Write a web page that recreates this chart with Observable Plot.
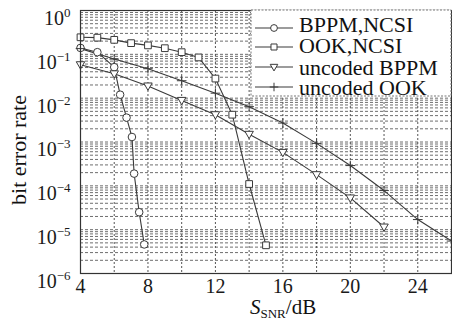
<!DOCTYPE html>
<html><head><meta charset="utf-8">
<script src="https://cdn.jsdelivr.net/npm/d3@7"></script>
<script src="https://cdn.jsdelivr.net/npm/@observablehq/plot@0.6"></script>
<style>body{margin:0;background:#fff} svg{display:block}</style>
</head><body><div id="chart"></div>
<script>
// ---- data ----
const snrBppmNcsi = [4, 5, 6, 6.35, 6.73, 7.05, 7.18, 7.48, 7.78];
const berBppmNcsi = [0.14, 0.112, 0.051, 0.012, 0.0036, 0.0013, 1.9e-4, 2.5e-5, 4.6e-6];

const snrOokNcsi = [4, 5, 6, 7, 8, 9, 10, 11, 12, 13, 14, 15];
const berOokNcsi = [0.245, 0.24, 0.214, 0.18, 0.16, 0.138, 0.112, 0.085, 0.028, 4.2e-3, 1.1e-4, 4.4e-6];

const snrUncodedBppm = [4, 6, 8, 10, 12, 14, 16, 18, 20, 22];
const berUncodedBppm = [0.058, 0.036, 0.019, 0.0089, 0.0042, 0.0015, 5.8e-4, 1.8e-4, 5.3e-5, 1.15e-5];

const snrUncodedOok = [4, 6, 8, 10, 12, 14, 16, 18, 20, 22, 24, 26];
const berUncodedOok = [0.135, 0.078, 0.047, 0.025, 0.013, 6.4e-3, 2.7e-3, 9.3e-4, 2.9e-4, 7.8e-5, 1.7e-5, 5.5e-6];

const seriesNames = ["BPPM,NCSI", "OOK,NCSI", "uncoded BPPM", "uncoded OOK"];

const xTicks = [4, 8, 12, 16, 20, 24];
const xGrid = [6, 8, 10, 12, 14, 16, 18, 20, 22, 24];
const yTicks = [1e-6, 1e-5, 1e-4, 1e-3, 1e-2, 1e-1, 1];
const minorMultipliers = [2, 3, 4, 5, 6, 7, 8, 9];

// ---- build tables ----
const yGrid = yTicks.flatMap(d => d < 1 ? [d, ...minorMultipliers.map(m => m * d)] : [d]);
const triDown = {
  draw(ctx, size) {
    const h = Math.sqrt(size) * 0.95;
    ctx.moveTo(-h * 0.6, -h * 0.42);
    ctx.lineTo(h * 0.6, -h * 0.42);
    ctx.lineTo(0, h * 0.62);
    ctx.closePath();
  }
};
const symbols = ["circle", "square", triDown, "plus"];
const d3Symbols = [d3.symbolCircle, d3.symbolSquare, triDown, d3.symbolPlus];
const radii = [3.8, 3.8, 4.2, 3.2];
const xs = [snrBppmNcsi, snrOokNcsi, snrUncodedBppm, snrUncodedOok];
const ys = [berBppmNcsi, berOokNcsi, berUncodedBppm, berUncodedOok];
const tables = xs.map((arr, i) => arr.map((x, j) => ({x, y: ys[i][j], s: seriesNames[i]})));

const ink = "#3a3a3a";
const marks = [
  Plot.ruleY(yGrid, {stroke: "#5e5e5e", strokeDasharray: "3,2", strokeWidth: 0.9}),
  Plot.ruleX(xGrid, {stroke: "#555", strokeDasharray: "2,2", strokeWidth: 1}),
];
tables.forEach((t, i) => {
  marks.push(Plot.line(t, {x: "x", y: "y", stroke: ink, strokeWidth: 1.1}));
});
tables.forEach((t, i) => {
  marks.push(Plot.dot(t, {x: "x", y: "y", symbol: symbols[i], r: radii[i], stroke: ink, strokeWidth: 1, fill: i === 3 ? "none" : "white"}));
});
marks.push(Plot.frame({stroke: "#333", strokeWidth: 1.2}));

const plot = Plot.plot({
  width: 452, height: 320,
  marginLeft: 80, marginRight: 1, marginTop: 10, marginBottom: 47,
  style: {fontFamily: "'Liberation Serif', serif", fontSize: "20px", color: "#1a1a1a", background: "white", overflow: "visible"},
  x: {domain: [4, 26], ticks: xTicks, tickSize: 0, tickPadding: 5, label: null},
  y: {type: "log", domain: [1e-6, 1], ticks: yTicks, tickFormat: d => "10^" + Math.round(Math.log10(d)), tickSize: 0, tickPadding: 10, label: null},
  marks
});
document.getElementById("chart").appendChild(plot);

const NS = "http://www.w3.org/2000/svg";
function el(parent, tag, attrs, text) {
  const e = document.createElementNS(NS, tag);
  for (const k in attrs) e.setAttribute(k, attrs[k]);
  if (text != null) e.textContent = text;
  parent.appendChild(e);
  return e;
}

// superscript exponents on y tick labels
for (const t of Array.from(plot.querySelectorAll("text"))) {
  const m = /^10\^(-?\d+)$/.exec(t.textContent);
  if (!m) continue;
  t.textContent = "";
  const old = t.getAttribute("transform") || "";
  t.setAttribute("transform", old + " translate(0,8)");
  el(t, "tspan", {}, "10");
  el(t, "tspan", {"font-size": 13, dy: "-8"}, m[1].replace("-", "\u2212"));
}

// legend
const lg = el(plot, "g", {"font-family": "'Liberation Serif', serif", "text-anchor": "start"});
el(lg, "rect", {x: 251, y: 10, width: 200, height: 86, fill: "#ffffff", stroke: "#777", "stroke-dasharray": "2,1.5"});
const rowY = [28, 47, 67, 87];
const baseY = [32, 53, 75, 95];
seriesNames.forEach((name, i) => {
  el(lg, "line", {x1: 255, x2: 293, y1: rowY[i], y2: rowY[i], stroke: ink, "stroke-width": 1.1});
  el(lg, "path", {d: d3.symbol(d3Symbols[i], Math.PI * radii[i] * radii[i] * 0.8)(),
    transform: `translate(274,${rowY[i]})`, fill: i === 3 ? "none" : "#ffffff", stroke: ink});
  el(lg, "text", {x: 299, y: baseY[i], "font-size": 22, fill: "#111"}, name);
});

// axis titles
const xl = el(plot, "text", {x: 250, y: 314, "font-family": "'Liberation Serif', serif", "font-size": 21, fill: "#111", "text-anchor": "start"});
el(xl, "tspan", {"font-style": "italic"}, "S");
el(xl, "tspan", {"font-size": 13, dy: 4}, "SNR");
el(xl, "tspan", {dy: -4}, "/dB");

el(plot, "text", {transform: "translate(26,150) rotate(-90)", "text-anchor": "middle",
  "font-family": "'Liberation Serif', serif", "font-size": 22, fill: "#111"}, "bit error rate");
</script>
</body></html>
